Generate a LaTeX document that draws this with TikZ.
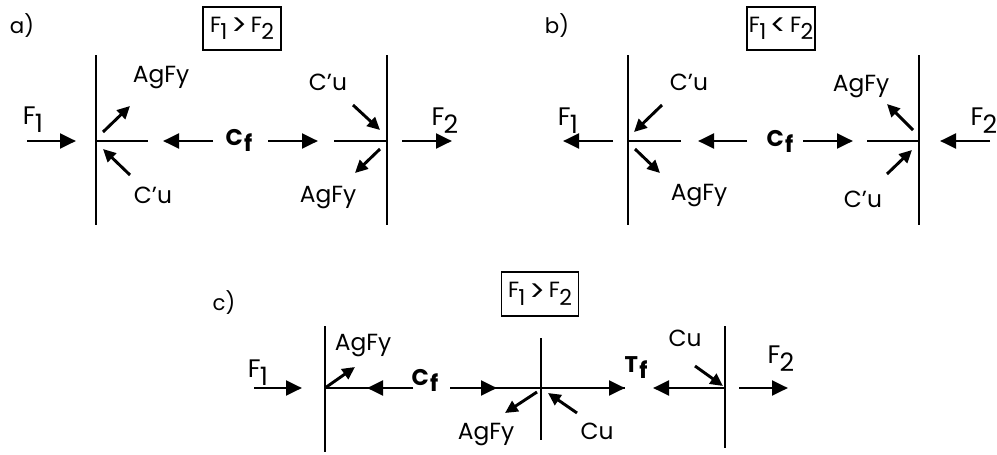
\documentclass[tikz,border=0pt]{standalone}
\usepackage{fontspec}
\usepackage{graphicx}
\setmainfont{Poppins}
\usetikzlibrary{arrows.meta}
\newcommand\Fsb[1]{F\kern-0.03em\raisebox{-0.34em}{#1}}
\newcommand\Csb[1]{\textbf{#1}\kern0.06em\raisebox{-0.3em}{\textbf{f}}}
\newcommand\Rel[1]{\raisebox{-0.14em}{\scalebox{1.35}{#1}}}
\begin{document}
\begin{tikzpicture}[x=0.75pt,y=-0.75pt,
  wall/.style={line width=1.6pt},
  bar/.style={line width=2.2pt},
  force/.style={line width=2.2pt,-{Triangle[length=12pt,width=11pt]}},
  small/.style={line width=2.2pt,-{Triangle[length=9.5pt,width=9pt]}},
  lbl/.style={font=\fontsize{17.5}{19}\selectfont, inner sep=0pt, anchor=base},
  flbl/.style={font=\fontsize{19}{21}\selectfont, inner sep=0pt, anchor=base},
  cflbl/.style={font=\fontsize{17}{19}\selectfont, inner sep=0pt, anchor=base},
  panel/.style={font=\fontsize{16}{18}\selectfont, inner sep=0pt, anchor=base},
  cond/.style={draw, line width=1.2pt, font=\fontsize{16.5}{18}\selectfont, inner sep=0pt, minimum height=32pt},
]
\useasboundingbox (0,0) rectangle (997,454);

% ---------------- panel a ----------------
\node[panel] (pa) at (22,33) {a)};
\node[cond, minimum width=58.5pt] (boxa) at (242,28.5) {\Fsb1\,\Rel{>}\,\Fsb2};
\draw[wall] (96,55) coordinate (aw1t) -- (96,225) coordinate (aw1b);
\draw[wall] (387,55) coordinate (aw2t) -- (387,225) coordinate (aw2b);
\draw[bar] (aw1t |- 0,141) -- (148,141) coordinate (ab1);
\draw[bar] (334,141) coordinate (ab2) -- (aw2t |- 0,141);
\node[cflbl] (cfa) at (239,145) {\Csb{C}};
\draw[force] (213,141) coordinate (ac1) -- (163,141) coordinate (ac2);
\draw[force] (268,141) coordinate (ac3) -- (318,141) coordinate (ac4);
\node[flbl] (f1a) at (33,124) {\Fsb1};
\draw[force] (27,141) coordinate (af1s) -- (76,141) coordinate (af1e);
\node[flbl] (f2a) at (445,125) {\Fsb2};
\draw[force] (402,141) coordinate (af2s) -- (452,141) coordinate (af2e);
\node[lbl] (agA1) at (161,82) {AgFy};
\draw[small] (103,132) coordinate (aa1s) -- (130,106) coordinate (aa1e);
\node[lbl] (cuA1) at (153,203) {C’u};
\draw[small] (130,175) coordinate (aa2s) -- (103,149) coordinate (aa2e);
\node[lbl] (cuA2) at (328,90) {C’u};
\draw[small] (353,105) coordinate (aa3s) -- (380,130) coordinate (aa3e);
\node[lbl] (agA2) at (328,202) {AgFy};
\draw[small] (380,149) coordinate (aa4s) -- (355,173) coordinate (aa4e);

% ---------------- panel b ----------------
\node[panel] (pb) at (557,33) {b)};
\node[cond, minimum width=51pt] (boxb) at (781,28.5) {\Fsb1\,\Rel{<}\,\Fsb2};
\draw[wall] (628,55) coordinate (bw1t) -- (628,225) coordinate (bw1b);
\draw[wall] (919,55) coordinate (bw2t) -- (919,225) coordinate (bw2b);
\draw[bar] (bw1t |- 0,141) -- (681,141) coordinate (bb1);
\draw[bar] (867,141) coordinate (bb2) -- (bw2t |- 0,141);
\node[cflbl] (cfb) at (780,146) {\Csb{C}};
\draw[force] (747,141) coordinate (bc1) -- (698,141) coordinate (bc2);
\draw[force] (803,141) coordinate (bc3) -- (853,141) coordinate (bc4);
\node[flbl] (f1b) at (568,125) {\Fsb1};
\draw[force] (613,141) coordinate (bf1s) -- (563,141) coordinate (bf1e);
\node[flbl] (f2b) at (984,125) {\Fsb2};
\draw[force] (990,141) coordinate (bf2s) -- (940,141) coordinate (bf2e);
\node[lbl] (cuB1) at (689,90) {C’u};
\draw[small] (662,105) coordinate (ba1s) -- (634,132) coordinate (ba1e);
\node[lbl] (agB1) at (699,200) {AgFy};
\draw[small] (635,149) coordinate (ba2s) -- (660,173) coordinate (ba2e);
\node[lbl] (agB2) at (861,91) {AgFy};
\draw[small] (913,130) coordinate (ba3s) -- (887,104) coordinate (ba3e);
\node[lbl] (cuB2) at (863,207) {C’u};
\draw[small] (887,174) coordinate (ba4s) -- (912,150) coordinate (ba4e);

% ---------------- panel c ----------------
\node[panel] (pc) at (224,310) {c)};
\node[cond, minimum width=58pt, minimum height=33pt] (boxc) at (540,294) {\Fsb1\,\Rel{>}\,\Fsb2};
\draw[wall] (325,326) coordinate (cw1t) -- (325,452) coordinate (cw1b);
\draw[wall] (541,338) coordinate (cw2t) -- (541,440) coordinate (cw2b);
\draw[wall] (725,326) coordinate (cw3t) -- (725,448) coordinate (cw3b);
\node[flbl] (f1c) at (258,377) {\Fsb1};
\draw[force] (254,388) coordinate (cf1s) -- (302,388) coordinate (cf1e);
\node[lbl] (agC1) at (363,350) {AgFy};
\draw[small] (cw1t |- 0,388) coordinate (ca1s) -- (355,367) coordinate (ca1e);
\draw[bar] (413,388) coordinate (cl1) -- (ca1s);
\draw[force] (cl1) -- (367,388) coordinate (cl2);
\node[cflbl] (cfc) at (425,385) {\Csb{C}};
\draw[bar] (450,388) coordinate (cr1) -- (625,388) coordinate (cr4);
\draw[force] (cr1) -- (497,388) coordinate (cr2);
\draw[force] (cw2t |- 0,388) coordinate (cr3) -- (cr4);
\node[cflbl] (tfc) at (636,372) {\Csb{T}};
\draw[force] (cw3t |- 0,388) coordinate (ct1) -- (653,388) coordinate (ct2);
\node[lbl] (cuC1) at (685,346) {Cu};
\draw[small] (695,366) coordinate (ca3s) -- (723,386) coordinate (ca3e);
\node[flbl] (f2c) at (781,363) {\Fsb2};
\draw[force] (739,388) coordinate (cf2s) -- (788,388) coordinate (cf2e);
\node[lbl] (agC2) at (486,439) {AgFy};
\draw[small] (537,392) coordinate (ca4s) -- (505,413) coordinate (ca4e);
\node[lbl] (cuC2) at (597,439) {Cu};
\draw[small] (577,413) coordinate (ca5s) -- (548,393) coordinate (ca5e);
\end{tikzpicture}
\end{document}
